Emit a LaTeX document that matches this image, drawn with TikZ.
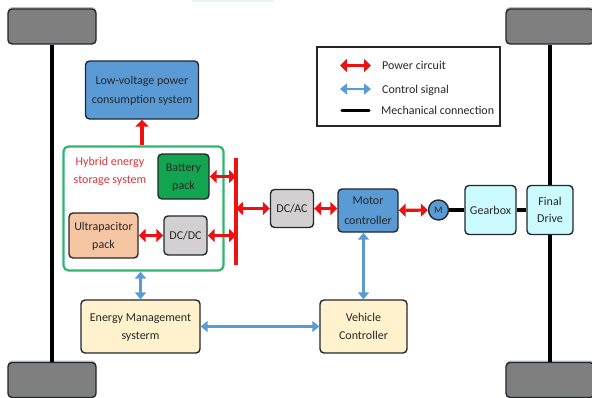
\documentclass[tikz,border=0pt]{standalone}
\usepackage{fontspec}
\setmainfont{Carlito}
\usetikzlibrary{arrows.meta,shadows}
\definecolor{wheelgray}{HTML}{7F7F7F}
\definecolor{sysblue}{HTML}{5B9BD5}
\definecolor{battgreen}{HTML}{12A550}
\definecolor{ucappeach}{HTML}{F6C6A4}
\definecolor{convgray}{HTML}{D2D0D0}
\definecolor{ctrlcream}{HTML}{FFF2CC}
\definecolor{gearcyan}{HTML}{CCFBFF}
\definecolor{framegreen}{HTML}{2FB56F}
\definecolor{edgedark}{HTML}{23272E}
\definecolor{powerred}{HTML}{EE1111}
\definecolor{textred}{HTML}{D8333A}
\tikzset{
  block/.style={draw=edgedark,line width=1.4pt,rounded corners=4pt,inner sep=0pt,align=center,
    text depth=0pt,text=black!85,font=\fontsize{12}{17.5}\selectfont},
  wheel/.style={block,fill=wheelgray,minimum width=88pt,minimum height=35pt,
    general shadow={shadow yshift=2pt,fill=black,opacity=.25}},
  power/.style={draw=powerred,line width=3.2pt,<->,>={Triangle[length=7pt,width=13pt]}},
  signal/.style={draw=sysblue,line width=2.6pt,<->,>={Triangle[length=7pt,width=11pt]}},
  shaft/.style={draw=black,line width=3.2pt},
  legtext/.style={inner sep=0pt,anchor=west,text=black!85,font=\fontsize{12}{14}\selectfont}
}
\begin{document}
\begin{tikzpicture}[x=1pt,y=-1pt]
\clip (0,0) rectangle (592,397);
\fill[gearcyan!60!sysblue!25] (192,0) rectangle (274,2);
\node[wheel] (wheeltl) at (52,26.5) {};
\node[wheel] (wheeltr) at (550,26.5) {};
\node[wheel] (wheelbl) at (52,380) {};
\node[wheel] (wheelbr) at (550,380) {};
\node[block,fill=gearcyan,minimum width=46pt,minimum height=49pt] (final) at (550,210) {Final\\Drive};
\node[block,fill=gearcyan,minimum width=51pt,minimum height=49pt] (gearbox) at (490.5,210) {Gearbox};
\node[block,fill=sysblue,circle,minimum size=20pt,font=\fontsize{10}{10}\selectfont] (motor) at (438.5,210) {M};
\node[block,fill=sysblue,minimum width=60pt,minimum height=43pt,font=\fontsize{12}{19.5}\selectfont] (motorctrl) at (368,210.5) {Motor\\controller};
\node[block,fill=convgray,minimum width=43pt,minimum height=38pt] (dcac) at (292,208.5) {DC/AC};
\node[draw=framegreen,line width=2.2pt,rounded corners=5pt,minimum width=160pt,minimum height=124pt,inner sep=0pt] (hess) at (143.5,208.5) {};
\node[block,fill=battgreen,minimum width=51pt,minimum height=45pt] (battery) at (183.5,176.5) {Battery\\pack};
\node[block,fill=ucappeach,minimum width=69pt,minimum height=45pt] (ucap) at (103.5,235.5) {Ultrapacitor\\pack};
\node[block,fill=convgray,minimum width=43pt,minimum height=39pt] (dcdc) at (185.5,235.5) {DC/DC};
\node[block,fill=sysblue,minimum width=113pt,minimum height=58pt,font=\fontsize{12}{19.5}\selectfont] (lowv) at (142,90) {Low-voltage power\\consumption system};
\node[block,fill=ctrlcream,minimum width=119pt,minimum height=53pt] (ems) at (140.5,326.5) {Energy Management\\systerm};
\node[block,fill=ctrlcream,minimum width=87pt,minimum height=53pt] (vehicle) at (363.5,326.5) {Vehicle\\Controller};
\node[inner sep=0pt,align=center,text=textred,text depth=0pt,font=\fontsize{12}{17.5}\selectfont] (hesstext) at (110,170.5) {Hybrid energy\\storage system};
\node[draw=black!85,line width=2pt,minimum width=183pt,minimum height=79pt,inner sep=0pt] (legend) at (408,86) {};
\node[legtext] (legpower) at (382,65) {Power circuit};
\node[legtext] (legsignal) at (382,90) {Control signal};
\node[legtext] (legmech) at (381,110.5) {Mechanical connection};
\coordinate (bustop) at (236,157.5);
\coordinate (busbot) at (236,265);
\coordinate (busbatt) at (236,176.5);
\coordinate (busac) at (236,208.5);
\coordinate (busdc) at (236,235.5);
\coordinate (legpa) at (340,65.5);
\coordinate (legpb) at (371,65.5);
\coordinate (legsa) at (340,89);
\coordinate (legsb) at (371,89);
\coordinate (legma) at (342,110.5);
\coordinate (legmb) at (369,110.5);
\path[draw,powerred,line width=3.8pt] (bustop) -- (busbot);
\path[power] (battery) -- (busbatt);
\path[power] (dcdc) -- (busdc);
\path[power] (ucap) -- (dcdc);
\path[power] (busac) -- (dcac);
\path[power] (dcac.east) -- (dcac.east -| motorctrl.west);
\path[power] (motorctrl) -- (motor);
\path[power,<-] (lowv.south) -- (lowv.south |- hess.north);
\path[signal] (ems.north) -- (ems.north |- hess.south);
\path[signal] (ems) -- (vehicle);
\path[signal] (vehicle.north) -- (vehicle.north |- motorctrl.south);
\path[shaft] (motor) -- (gearbox);
\path[shaft] (gearbox) -- (final);
\path[shaft] (wheeltl) -- (wheelbl);
\path[shaft] (wheeltr) -- (final);
\path[shaft] (final) -- (wheelbr);
\path[power] (legpa) -- (legpb);
\path[signal] (legsa) -- (legsb);
\path[shaft,line cap=round] (legma) -- (legmb);
\end{tikzpicture}
\end{document}
